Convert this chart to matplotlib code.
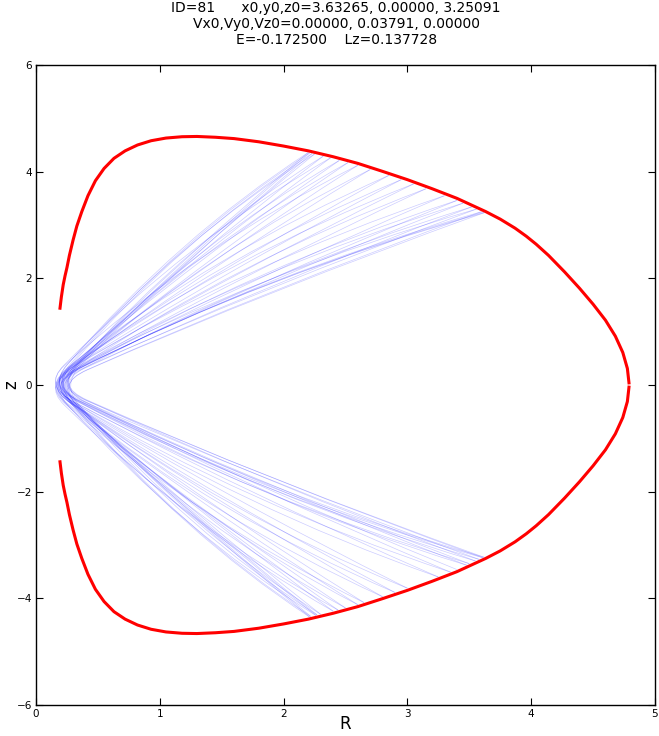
import numpy as np
import matplotlib
matplotlib.use("Agg")
import matplotlib.pyplot as plt
from matplotlib.path import Path
from matplotlib.patches import PathPatch

# zero velocity curve, upper branch (lower branch is its mirror)
zvc_R = [0.194, 0.205, 0.22, 0.235, 0.25, 0.27, 0.30, 0.33, 0.37, 0.42, 0.48, 0.55,
         0.63, 0.72, 0.82, 0.93, 1.05, 1.18, 1.30, 1.45, 1.60, 1.80, 2.00, 2.20,
         2.40, 2.60, 2.80, 3.00, 3.20, 3.40, 3.633, 3.75, 3.87, 3.96, 4.04, 4.14,
         4.27, 4.39, 4.50, 4.60, 4.68, 4.74, 4.777, 4.79]
zvc_z = [1.44, 1.65, 1.88, 2.05, 2.20, 2.43, 2.72, 2.98, 3.25, 3.55, 3.83, 4.06,
         4.25, 4.39, 4.50, 4.58, 4.63, 4.655, 4.66, 4.645, 4.62, 4.56, 4.48, 4.39,
         4.28, 4.155, 4.005, 3.85, 3.68, 3.50, 3.251, 3.11, 2.94, 2.79, 2.64, 2.43,
         2.12, 1.815, 1.515, 1.215, 0.915, 0.61, 0.31, 0.04]

# orbit turning points near the ZVC, in the order they are visited
upper_R = [3.63, 3.30, 2.45, 2.21, 2.60, 3.40, 3.60, 3.05, 2.32, 2.25, 2.85,
           3.52, 3.56, 2.70, 2.23, 2.38, 3.15, 3.62, 3.45, 2.52, 2.20, 2.95]
upper_z = [3.25, 3.55, 4.21, 4.35, 4.12, 3.46, 3.25, 3.77, 4.29, 4.33, 3.93,
           3.34, 3.30, 4.04, 4.34, 4.26, 3.68, 3.23, 3.41, 4.17, 4.36, 3.85]
lower_R = [3.58, 2.90, 2.27, 2.40, 3.25, 3.62, 3.35, 2.50, 2.22, 2.65, 3.48,
           3.61, 3.00, 2.30, 2.26, 2.80, 3.55, 3.50, 2.60, 2.21, 2.44, 3.40]
lower_z = [-3.27, -3.89, -4.31, -4.24, -3.60, -3.23, -3.51, -4.18, -4.34, -4.08, -3.38,
           -3.24, -3.81, -4.30, -4.32, -3.97, -3.30, -3.35, -4.12, -4.35, -4.22, -3.46]

# R of the inner turn (z ~ 0) for each passage through the centre
vertex_R = [0.22, 0.20, 0.17, 0.19, 0.24, 0.26, 0.21, 0.18, 0.16, 0.20, 0.25,
            0.27, 0.22, 0.18, 0.16, 0.21, 0.26, 0.24, 0.19, 0.16, 0.19, 0.23,
            0.27, 0.21, 0.17, 0.20, 0.25, 0.28, 0.22, 0.19, 0.16, 0.20, 0.26,
            0.27, 0.21, 0.18, 0.17, 0.22, 0.25, 0.23, 0.19, 0.16, 0.21]

title = ("ID=81      x0,y0,z0=3.63265, 0.00000, 3.25091\n"
         "Vx0,Vy0,Vz0=0.00000, 0.03791, 0.00000\n"
         "E=-0.172500    Lz=0.137728")


def orbit_pass(A, B, v, d=0.4, bend_a=1.28, bend_b=1.1):
    # one passage from turning point A through the inner turn to turning point B
    A = np.array(A, float)
    B = np.array(B, float)
    c = v
    for _ in range(4):
        C = np.array([c, 0.0])
        dirs = []
        for P, bend in ((A, bend_a), (B, bend_b)):
            s = (P[1] - C[1]) / (P[0] - C[0]) * bend
            w = np.array([1.0, s])
            dirs.append(w / np.hypot(*w))
        wa, wb = dirs
        c = v - 0.25 * d * (wa[0] + wb[0])
    C = np.array([c, 0.0])
    Pa = C + d * wa
    Pb = C + d * wb
    Qa = C + wa * (A[0] - C[0]) / 2 / wa[0]
    Qb = C + wb * (B[0] - C[0]) / 2 / wb[0]
    verts = [A, Qa, Pa, C, Pb, Qb, B]
    codes = [Path.MOVETO] + [Path.CURVE3] * 6
    return Path(verts, codes)


points = []
for i in range(len(upper_R)):
    points.append((upper_R[i], upper_z[i]))
    points.append((lower_R[i], lower_z[i]))

fig = plt.figure(figsize=(6.59, 7.36), dpi=100)
ax = fig.add_axes([0.0546, 0.0421, 0.9393, 0.8696])

for k in range(len(points) - 1):
    p = orbit_pass(points[k], points[k + 1], vertex_R[k])
    ax.add_patch(PathPatch(p, facecolor="none", edgecolor="b", lw=0.5, alpha=0.2))

ax.plot(zvc_R, zvc_z, color="r", lw=2.2)
ax.plot(zvc_R, [-z for z in zvc_z], color="r", lw=2.2)

ax.set_xlim(0, 5)
ax.set_ylim(-6, 6)
ax.set_xticks([0, 1, 2, 3, 4, 5])
ax.set_yticks([-6, -4, -2, 0, 2, 4, 6])
ax.tick_params(direction="in", top=True, right=True, labelsize=7.5, length=5, pad=3)
for s in ax.spines.values():
    s.set_linewidth(1.0)

fig.text(0.524, 0.004, "R", ha="center", va="bottom", fontsize=12)
fig.text(0.004, 0.477, "z", ha="left", va="center", fontsize=12, rotation=90)
fig.text(0.51, 0.998, title, ha="center", va="top", fontsize=10, linespacing=1.15)

fig.savefig("out.png", dpi=100)
